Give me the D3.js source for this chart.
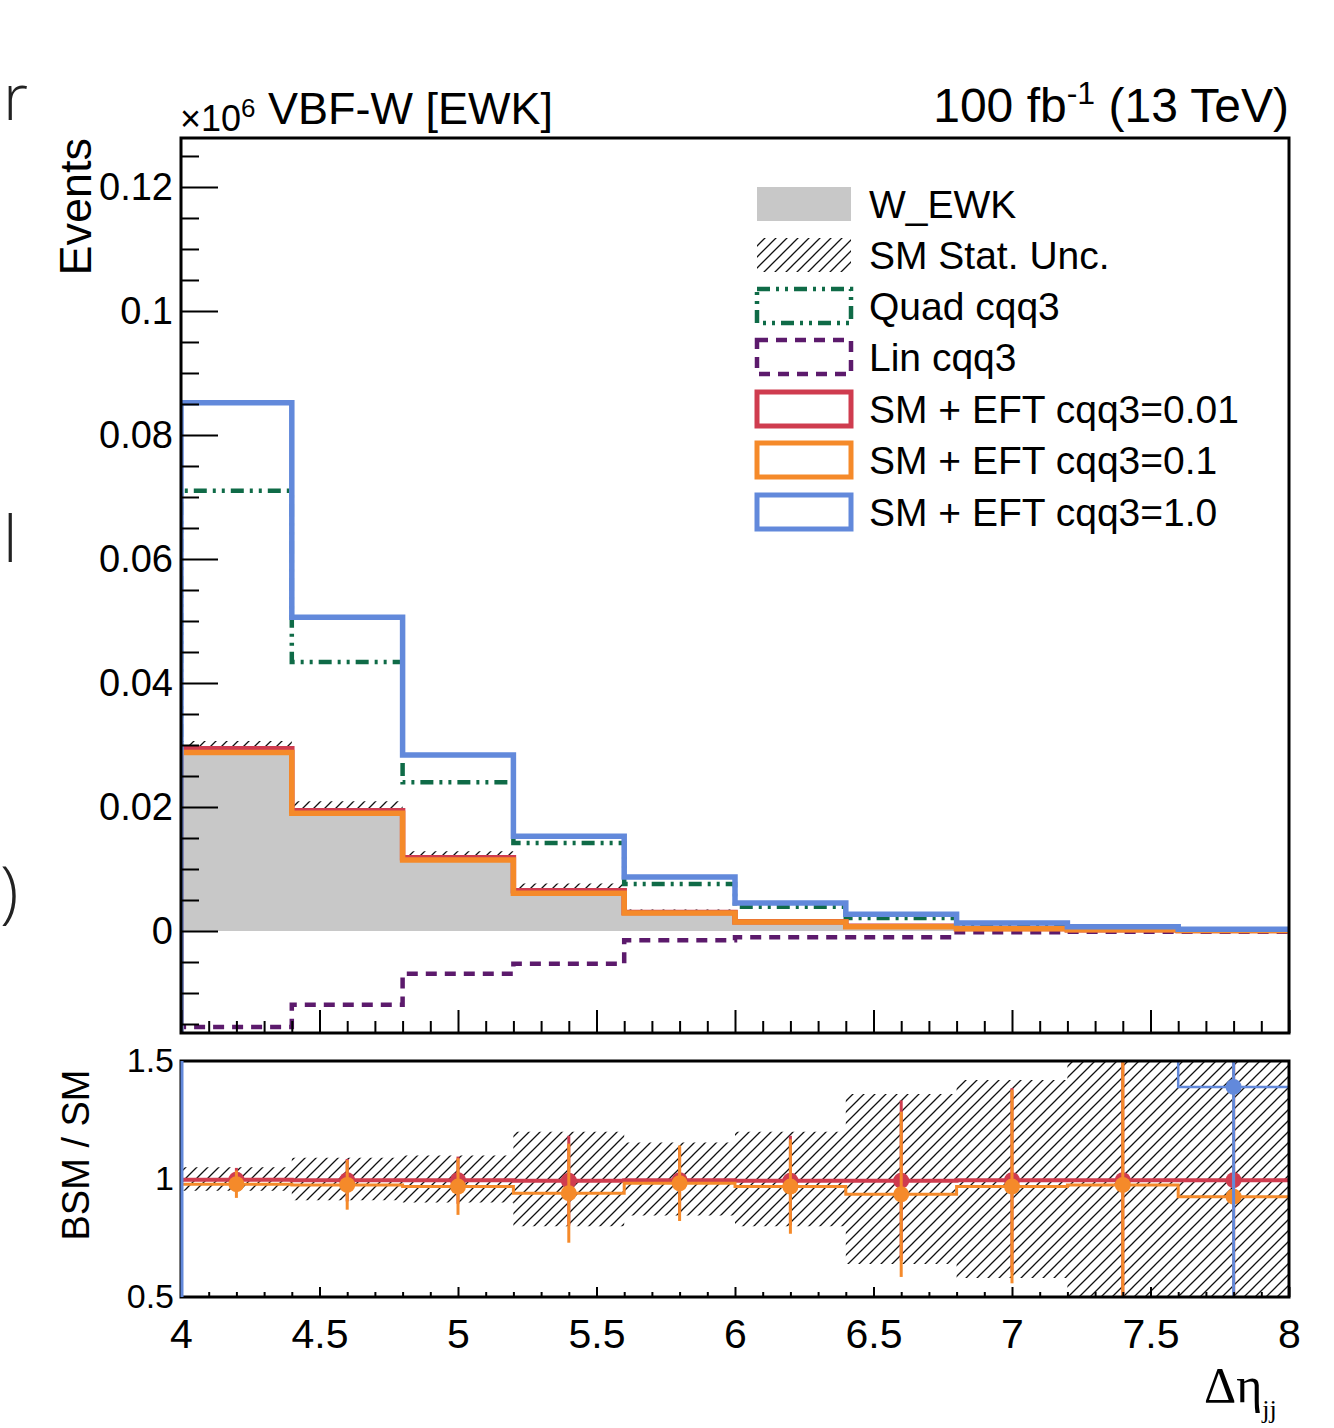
<!DOCTYPE html>
<html>
<head>
<meta charset="utf-8">
<script src="https://cdn.jsdelivr.net/npm/d3@7"></script>
<style>
body { margin: 0; background: #fff; }
svg { display: block; font-family: "Liberation Sans", Arial, Helvetica, sans-serif; }
</style>
</head>
<body>
<script>

//bin edges in delta eta jj
var binEdges = [4, 4.4, 4.8, 5.2, 5.6, 6.0, 6.4, 6.8, 7.2, 7.6, 8.0];

//events per bin, in units of 10^6
var smEWK   = [0.0292, 0.0192, 0.0117, 0.0064, 0.0030, 0.0015, 0.00075, 0.0004, 0.0002, 0.0001];
var eft001  = [0.0294, 0.0194, 0.0118, 0.0065, 0.0030, 0.0015, 0.00078, 0.0004, 0.0002, 0.0001];
var eft01   = [0.0288, 0.0190, 0.01145, 0.0061, 0.0029, 0.00145, 0.0007, 0.00038, 0.0002, 0.0001];
var eft1    = [0.0852, 0.0506, 0.0284, 0.0153, 0.0087, 0.0045, 0.0027, 0.0013, 0.0007, 0.0003];
var quadCqq3 = [0.0710, 0.0434, 0.0240, 0.0142, 0.0076, 0.0039, 0.0021, 0.0009, 0.0005, 0.0002];
var linCqq3  = [-0.0155, -0.0119, -0.0069, -0.0053, -0.0015, -0.0010, -0.0010, -0.0002, -0.0001, -0.0001];

//relative SM stat uncertainty per bin
var smRelUnc = [0.05, 0.09, 0.10, 0.20, 0.155, 0.20, 0.36, 0.42, 0.75, 0.9];

//BSM / SM ratios and their errors
var ratio001 = [0.997, 0.995, 0.995, 0.993, 0.995, 0.993, 0.993, 0.995, 0.995, 0.995];
var err001   = [0.05, 0.09, 0.10, 0.19, 0.14, 0.19, 0.34, 0.39, 0.9, 1.0];
var ratio01  = [0.978, 0.975, 0.968, 0.94, 0.982, 0.968, 0.935, 0.968, 0.975, 0.925];
var err01    = [0.058, 0.105, 0.12, 0.21, 0.16, 0.2, 0.35, 0.41, 0.9, 1.0];
var ratio1   = [2.9, 2.66, 2.43, 2.4, 2.9, 3.0, 3.6, 3.25, 3.5, 1.39];
var err1     = [0.1, 0.15, 0.2, 0.3, 0.4, 0.5, 0.8, 0.9, 1.2, 1.5];

//axis ticks
var yMajor = [0, 0.02, 0.04, 0.06, 0.08, 0.1, 0.12];
var yMinor = d3.range(-15, 130, 5).map(function(d){ return d / 1000; });
var xMajor = [4, 4.5, 5, 5.5, 6, 6.5, 7, 7.5, 8];
var xMinor = d3.range(40, 81, 1).map(function(d){ return d / 10; });
var ratioTicks = [0.5, 1, 1.5];

//legend
var legendLabels = ["W_EWK", "SM Stat. Unc.", "Quad cqq3", "Lin cqq3",
                    "SM + EFT cqq3=0.01", "SM + EFT cqq3=0.1", "SM + EFT cqq3=1.0"];

var colRed = "#cf3c4f", colOrange = "#f58a2a", colBlue = "#6289db",
    colGreen = "#0f6b47", colPurple = "#5c1a6c", colGray = "#c8c8c8";

var width = 1334, height = 1428;

var svg = d3.select("body").append("svg")
    .attr("width", width)
    .attr("height", height);

var defs = svg.append("defs");
var pat = defs.append("pattern")
    .attr("id", "hatch")
    .attr("patternUnits", "userSpaceOnUse")
    .attr("width", 11).attr("height", 11);
pat.append("path")
    .attr("d", "M0,11 L11,0 M-2,2 L2,-2 M9,13 L13,9")
    .attr("stroke", "#111").attr("stroke-width", 1.3);

//frames
var fx0 = 181, fx1 = 1289;
var mainTop = 138, mainBot = 1033;
var ratTop = 1061, ratBot = 1297;

defs.append("clipPath").attr("id", "clipMain").append("rect")
    .attr("x", fx0).attr("y", mainTop).attr("width", fx1 - fx0).attr("height", mainBot - mainTop);
defs.append("clipPath").attr("id", "clipRatio").append("rect")
    .attr("x", fx0).attr("y", ratTop).attr("width", fx1 - fx0).attr("height", ratBot - ratTop);

var x = d3.scaleLinear().domain([4, 8]).range([fx0, fx1]);
var y = d3.scaleLinear().domain([-0.01645, 0.1279]).range([mainBot, mainTop]);
var yR = d3.scaleLinear().domain([0.5, 1.5]).range([ratBot, ratTop]);

//histogram outline points, optionally starting from a base value
function histPoints(vals, start){
    var pts = [];
    if (start !== undefined) pts.push([binEdges[0], start]);
    vals.forEach(function(v, i){ pts.push([binEdges[i], v]); });
    pts.push([binEdges[binEdges.length - 1], vals[vals.length - 1]]);
    return pts;
}
function binCenter(i){ return (binEdges[i] + binEdges[i + 1]) / 2; }

var lineMain = d3.line()
    .x(function(d){ return x(d[0]); })
    .y(function(d){ return y(d[1]); })
    .curve(d3.curveStepAfter);
var lineRatio = d3.line()
    .x(function(d){ return x(d[0]); })
    .y(function(d){ return yR(d[1]); })
    .curve(d3.curveStepAfter);

// ---------------- main panel ----------------
var gMain = svg.append("g").attr("clip-path", "url(#clipMain)");

//stat unc band (under the grey stack, so only its upper half shows)
var uncPts = smEWK.map(function(v, i){ return [binEdges[i], v * (1 - smRelUnc[i]), v * (1 + smRelUnc[i])]; });
uncPts.push([8, uncPts[uncPts.length - 1][1], uncPts[uncPts.length - 1][2]]);
gMain.append("path")
    .datum(uncPts)
    .attr("fill", "url(#hatch)")
    .attr("d", d3.area()
        .x(function(d){ return x(d[0]); })
        .y0(function(d){ return y(d[1]); })
        .y1(function(d){ return y(d[2]); })
        .curve(d3.curveStepAfter));

var smPts = histPoints(smEWK);
gMain.append("path")
    .datum(smPts)
    .attr("fill", colGray)
    .attr("d", d3.area()
        .x(function(d){ return x(d[0]); })
        .y0(y(0))
        .y1(function(d){ return y(d[1]); })
        .curve(d3.curveStepAfter));

var mainSeries = [
    {vals: linCqq3, color: colPurple, w: 4.5, dash: "11,8"},
    {vals: quadCqq3, color: colGreen, w: 4.5, dash: "13,6,3,6,3,6"},
    {vals: eft001, color: colRed, w: 5.5, dash: null},
    {vals: eft01, color: colOrange, w: 5.5, dash: null},
    {vals: eft1, color: colBlue, w: 5.5, dash: null}
];
mainSeries.forEach(function(s){
    gMain.append("path")
        .datum(histPoints(s.vals, y.domain()[0]))
        .attr("fill", "none")
        .attr("stroke", s.color)
        .attr("stroke-width", s.w)
        .attr("stroke-dasharray", s.dash)
        .attr("d", lineMain);
});

//main axes
var gy = svg.append("g").attr("transform", "translate(" + fx0 + ",0)");
gy.call(d3.axisLeft(y).tickValues(yMajor).tickSizeInner(-37).tickSizeOuter(0).tickPadding(8)
    .tickFormat(function(d){ return d === 0 ? "0" : String(+d.toFixed(2)); }));
gy.append("g").call(d3.axisLeft(y).tickValues(yMinor.filter(function(d){
        return yMajor.indexOf(d) < 0; })).tickSizeInner(-18).tickSizeOuter(0).tickFormat(""));

var gx = svg.append("g").attr("transform", "translate(0," + mainBot + ")");
gx.call(d3.axisBottom(x).tickValues(xMajor).tickSizeInner(-23).tickSizeOuter(0).tickFormat(""));
gx.append("g").call(d3.axisBottom(x).tickValues(xMinor.filter(function(d){
        return xMajor.indexOf(d) < 0; })).tickSizeInner(-12).tickSizeOuter(0).tickFormat(""));

// ---------------- ratio panel ----------------
var gRat = svg.append("g").attr("clip-path", "url(#clipRatio)");

var rUnc = smRelUnc.map(function(u, i){ return [binEdges[i], 1 - u, 1 + u]; });
rUnc.push([8, rUnc[rUnc.length - 1][1], rUnc[rUnc.length - 1][2]]);
gRat.append("path")
    .datum(rUnc)
    .attr("fill", "url(#hatch)")
    .attr("d", d3.area()
        .x(function(d){ return x(d[0]); })
        .y0(function(d){ return yR(d[1]); })
        .y1(function(d){ return yR(d[2]); })
        .curve(d3.curveStepAfter));

var ratioSeries = [
    {vals: ratio001, errs: err001, color: colRed, w: 4},
    {vals: ratio01, errs: err01, color: colOrange, w: 3},
    {vals: ratio1, errs: err1, color: colBlue, w: 2.5}
];
ratioSeries.forEach(function(s){
    gRat.append("path")
        .datum(histPoints(s.vals, 0.5))
        .attr("fill", "none")
        .attr("stroke", s.color)
        .attr("stroke-width", s.w)
        .attr("d", lineRatio);
    gRat.selectAll(null)
        .data(s.vals)
        .enter()
        .append("line")
        .attr("x1", function(d, i){ return x(binCenter(i)); })
        .attr("x2", function(d, i){ return x(binCenter(i)); })
        .attr("y1", function(d, i){ return yR(d - s.errs[i]); })
        .attr("y2", function(d, i){ return yR(d + s.errs[i]); })
        .attr("stroke", s.color)
        .attr("stroke-width", 3);
    gRat.selectAll(null)
        .data(s.vals)
        .enter()
        .append("circle")
        .attr("cx", function(d, i){ return x(binCenter(i)); })
        .attr("cy", function(d){ return yR(d); })
        .attr("r", 8)
        .attr("fill", s.color);
});

var gxr = svg.append("g").attr("transform", "translate(0," + ratBot + ")");
gxr.call(d3.axisBottom(x).tickValues(xMajor).tickSizeInner(-10).tickSizeOuter(0).tickPadding(22)
    .tickFormat(function(d){ return String(d); }));
gxr.append("g").call(d3.axisBottom(x).tickValues(xMinor.filter(function(d){
        return xMajor.indexOf(d) < 0; })).tickSizeInner(-5).tickSizeOuter(0).tickFormat(""));

var gyr = svg.append("g").attr("transform", "translate(" + (fx0 - 5) + ",0)");
gyr.call(d3.axisLeft(yR).tickValues(ratioTicks).tickSize(0).tickPadding(2)
    .tickFormat(function(d){ return String(d); }));

//axis styling
[gy, gx, gxr, gyr].forEach(function(g){
    g.attr("font-family", null);
    g.selectAll(".domain").remove();
    g.selectAll(".tick line").attr("stroke", "#000").attr("stroke-width", 2);
    g.selectAll("text").attr("fill", "#000");
});
gy.selectAll("text").attr("font-size", 38);
gxr.selectAll("text").attr("font-size", 41);
gyr.selectAll("text").attr("font-size", 34);

//frames
svg.append("rect").attr("x", fx0).attr("y", mainTop)
    .attr("width", fx1 - fx0).attr("height", mainBot - mainTop)
    .attr("fill", "none").attr("stroke", "#000").attr("stroke-width", 3);
svg.append("rect").attr("x", fx0).attr("y", ratTop)
    .attr("width", fx1 - fx0).attr("height", ratBot - ratTop)
    .attr("fill", "none").attr("stroke", "#000").attr("stroke-width", 3);
//blue histogram edge sits over the ratio left frame
svg.append("line").attr("x1", fx0 + 1).attr("x2", fx0 + 1).attr("y1", ratTop).attr("y2", ratBot)
    .attr("stroke", colBlue).attr("stroke-width", 3);

// ---------------- texts ----------------
var t1 = svg.append("text").attr("x", 180).attr("y", 131).attr("font-size", 36);
t1.append("tspan").text("\u00d710");
t1.append("tspan").attr("dy", -14).attr("font-size", 26).text("6");
svg.append("text").attr("x", 268).attr("y", 124).attr("font-size", 45).text("VBF-W [EWK]");

var t2 = svg.append("text").attr("x", 1289).attr("y", 122).attr("font-size", 48).attr("text-anchor", "end");
t2.append("tspan").text("100 fb");
t2.append("tspan").attr("dy", -18).attr("font-size", 32).text("-1");
t2.append("tspan").attr("dy", 18).text(" (13 TeV)");

svg.append("text")
    .attr("transform", "translate(91,138) rotate(-90)")
    .attr("text-anchor", "end")
    .attr("font-size", 45)
    .text("Events");
svg.append("text")
    .attr("transform", "translate(89,1155) rotate(-90)")
    .attr("text-anchor", "middle")
    .attr("font-size", 38)
    .text("BSM / SM");

var t3 = svg.append("text").attr("x", 1204).attr("y", 1402)
    .attr("font-family", "'Liberation Serif', 'Times New Roman', serif").attr("font-size", 50);
t3.append("tspan").text("\u0394\u03b7");
t3.append("tspan").attr("dy", 16).attr("font-size", 26).text("jj");

//cut-off letters at the left edge
var edge = svg.append("g").attr("font-family", "'Open Sans', 'Noto Sans', sans-serif")
    .attr("font-weight", 300).attr("fill", "#222");
edge.append("text").attr("x", 3).attr("y", 120).attr("font-size", 64).text("r");
edge.append("text").attr("x", 3).attr("y", 562).attr("font-size", 64).text("l");
edge.append("text").attr("x", 0).attr("y", 915).attr("font-size", 68).text(")");

// ---------------- legend ----------------
var legX = 757, legW = 94, legH = 34, textX = 869;
var legY = [204, 255, 306, 357, 409, 460, 512];
var legStyle = [
    {fill: colGray, stroke: "none", w: 0, dash: null},
    {fill: "url(#hatch)", stroke: "none", w: 0, dash: null},
    {fill: "none", stroke: colGreen, w: 4.5, dash: "13,6,3,6,3,6"},
    {fill: "none", stroke: colPurple, w: 4.5, dash: "11,8"},
    {fill: "none", stroke: colRed, w: 5, dash: null},
    {fill: "none", stroke: colOrange, w: 5, dash: null},
    {fill: "none", stroke: colBlue, w: 5, dash: null}
];
var leg = svg.selectAll(".leg")
    .data(legendLabels)
    .enter()
    .append("g")
    .attr("class", "leg")
    .attr("transform", function(d, i){ return "translate(0," + legY[i] + ")"; });
leg.append("rect")
    .attr("x", legX).attr("y", -legH / 2)
    .attr("width", legW).attr("height", legH)
    .attr("fill", function(d, i){ return legStyle[i].fill; })
    .attr("stroke", function(d, i){ return legStyle[i].stroke; })
    .attr("stroke-width", function(d, i){ return legStyle[i].w; })
    .attr("stroke-dasharray", function(d, i){ return legStyle[i].dash; });
leg.append("text")
    .attr("x", textX).attr("y", 14)
    .attr("font-size", 39)
    .text(function(d){ return d; });

</script>
</body>
</html>
